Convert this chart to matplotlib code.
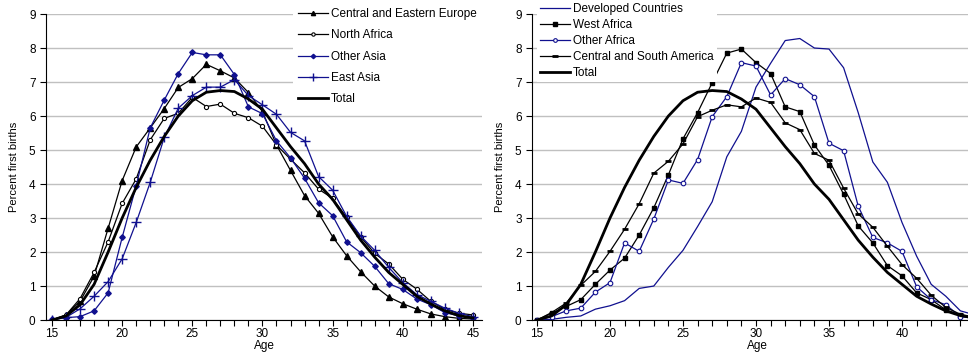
import matplotlib
matplotlib.use('Agg')
import matplotlib.pyplot as plt
from matplotlib.ticker import MultipleLocator

plt.rcParams['font.family'] = ['Liberation Sans', 'DejaVu Sans']

ages = list(range(15, 46))

# left panel
cee = [0, 0.15, 0.55, 1.29, 2.7, 4.1, 5.09, 5.65, 6.22, 6.84, 7.1, 7.52, 7.33, 7.12,
       6.69, 6.13, 5.15, 4.4, 3.66, 3.14, 2.45, 1.89, 1.42, 1.0, 0.68, 0.48, 0.32,
       0.18, 0.1, 0.05, 0.03]
north_africa = [0, 0.15, 0.63, 1.4, 2.3, 3.43, 4.15, 5.3, 5.93, 6.08, 6.55, 6.28, 6.35,
                6.08, 5.95, 5.7, 5.15, 4.73, 4.33, 3.85, 3.58, 3.02, 2.45, 1.96, 1.65,
                1.2, 0.91, 0.55, 0.32, 0.2, 0.15]
other_asia = [0.03, 0.07, 0.1, 0.27, 0.8, 2.43, 3.95, 5.65, 6.47, 7.25, 7.87, 7.8, 7.8,
              7.22, 6.27, 6.07, 5.27, 4.77, 4.17, 3.45, 3.07, 2.3, 1.98, 1.58, 1.07,
              0.9, 0.62, 0.45, 0.22, 0.12, 0.05]
east_asia = [0, 0.08, 0.33, 0.7, 1.13, 1.8, 2.87, 4.05, 5.37, 6.23, 6.6, 6.85, 6.85,
             7.07, 6.6, 6.33, 6.05, 5.52, 5.27, 4.22, 3.82, 3.05, 2.47, 2.05, 1.55,
             1.1, 0.75, 0.55, 0.35, 0.2, 0.1]
total = [0, 0.12, 0.45, 1.05, 2.0, 3.0, 3.9, 4.7, 5.4, 6.0, 6.45, 6.7, 6.75, 6.72, 6.5,
         6.2, 5.65, 5.1, 4.6, 4.0, 3.55, 2.95, 2.35, 1.85, 1.4, 1.05, 0.7, 0.47, 0.27,
         0.13, 0.06]

# right panel
developed = [0, 0.02, 0.08, 0.12, 0.32, 0.42, 0.57, 0.93, 1.0, 1.55, 2.05, 2.75, 3.48,
             4.8, 5.55, 6.85, 7.55, 8.22, 8.28, 8.0, 7.97, 7.42, 6.1, 4.65, 4.05, 2.87,
             1.88, 1.05, 0.7, 0.27, 0.15]
west_africa = [0, 0.2, 0.4, 0.6, 1.05, 1.47, 1.82, 2.5, 3.3, 4.27, 5.33, 6.1, 6.98, 7.85,
               7.97, 7.57, 7.25, 6.27, 6.13, 5.15, 4.55, 3.7, 2.77, 2.27, 1.6, 1.3, 0.8,
               0.6, 0.3, 0.15, 0.07]
other_africa = [0, 0.1, 0.27, 0.35, 0.82, 1.1, 2.27, 2.02, 2.97, 4.12, 4.02, 4.72, 5.98,
                6.57, 7.57, 7.47, 6.62, 7.1, 6.92, 6.57, 5.2, 4.98, 3.35, 2.43, 2.27,
                2.02, 0.98, 0.6, 0.45, 0.1, 0.05]
csa = [0, 0.22, 0.5, 1.02, 1.43, 2.02, 2.67, 3.42, 4.32, 4.67, 5.18, 5.98, 6.17, 6.33,
       6.27, 6.53, 6.4, 5.8, 5.6, 4.9, 4.7, 3.88, 3.12, 2.73, 2.17, 1.63, 1.23, 0.73,
       0.37, 0.17, 0.08]

BLUE = '#10108f'
FS = 8.5

fig = plt.figure(figsize=(9.68, 3.56), dpi=100)
ax1 = fig.add_axes([0.0475, 0.101, 0.4503, 0.8596])
ax2 = fig.add_axes([0.5496, 0.101, 0.4667, 0.8596])


def style(ax, xlim):
    ax.set_xlim(*xlim)
    ax.set_ylim(0, 9)
    ax.yaxis.set_major_locator(MultipleLocator(1))
    ax.xaxis.set_major_locator(MultipleLocator(5))
    ax.xaxis.set_minor_locator(MultipleLocator(1))
    ax.grid(axis='y', color='#c0c0c0', lw=1)
    ax.set_axisbelow(True)
    for s in ['top', 'right']:
        ax.spines[s].set_visible(False)
    ax.tick_params(axis='both', which='both', direction='out', length=4,
                   labelsize=FS, colors='black', width=0.8)
    ax.tick_params(axis='x', pad=2)
    ax.set_xlabel('Age', fontsize=FS, labelpad=0)
    ax.set_ylabel('Percent first births', fontsize=8, labelpad=7)


style(ax1, (14.57, 45.64))
style(ax2, (14.66, 45.6))

ax1.plot(ages, cee, color='black', lw=0.9, marker='^', ms=3.8, label='Central and Eastern Europe')
ax1.plot(ages, north_africa, color='black', lw=0.9, marker='o', ms=3, mfc='white',
         mew=0.8, label='North Africa')
ax1.plot(ages, other_asia, color=BLUE, lw=0.9, marker='D', ms=2.8, label='Other Asia')
ax1.plot(ages, east_asia, color=BLUE, lw=0.9, marker='+', ms=6.5, mew=1, label='East Asia')
ax1.plot(ages, total, color='black', lw=2.0, label='Total')

ax2.plot(ages, developed, color=BLUE, lw=0.9, label='Developed Countries')
ax2.plot(ages, west_africa, color='black', lw=0.9, marker='s', ms=3.3, label='West Africa')
ax2.plot(ages, other_africa, color=BLUE, lw=0.9, marker='o', ms=3.3, mfc='white',
         mew=0.8, label='Other Africa')
ax2.plot(ages, csa, color='black', lw=0.9, marker='_', ms=5, mew=2,
         label='Central and South America')
ax2.plot(ages, total, color='black', lw=2.0, label='Total')

leg_kw = dict(fontsize=FS, frameon=True, fancybox=False, edgecolor='none', framealpha=1,
              handlelength=2.5, handletextpad=0.3, borderaxespad=0, markerscale=0.8)
ax1.legend(loc='upper left', bbox_to_anchor=(0.303, 0.99), bbox_transform=fig.transFigure,
           labelspacing=0.78, borderpad=0.4, **leg_kw)
ax2.legend(loc='upper left', bbox_to_anchor=(0.555, 1.0), bbox_transform=fig.transFigure,
           labelspacing=0.35, borderpad=0.25, **leg_kw)

fig.savefig('out.png', dpi=100)
